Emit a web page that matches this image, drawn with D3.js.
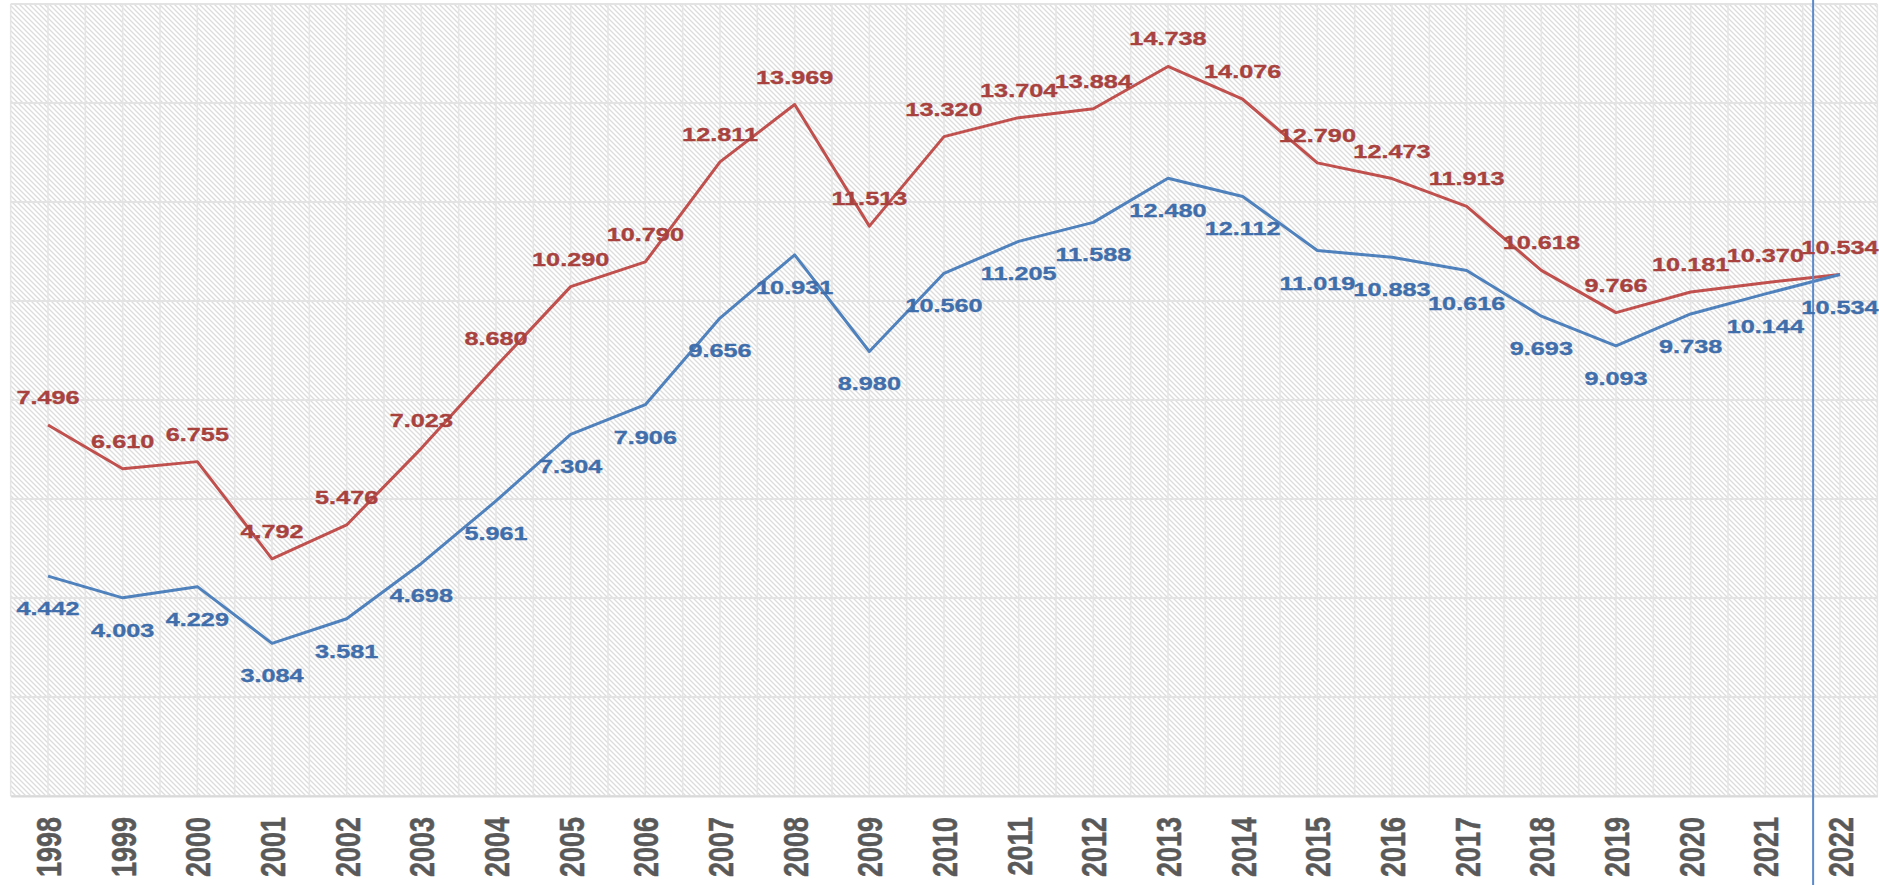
<!DOCTYPE html>
<html>
<head>
<meta charset="utf-8">
<script src="https://cdn.jsdelivr.net/npm/d3@7"></script>
<style>
  html, body { margin: 0; padding: 0; background: #ffffff; }
  svg { display: block; }
</style>
</head>
<body>
<svg id="chart" width="1879" height="885"></svg>
<script>
// ---- data ----
const years = ["1998","1999","2000","2001","2002","2003","2004","2005","2006","2007","2008","2009","2010","2011","2012","2013","2014","2015","2016","2017","2018","2019","2020","2021","2022"];
const redValues = [7.496, 6.610, 6.755, 4.792, 5.476, 7.023, 8.680, 10.290, 10.790, 12.811, 13.969, 11.513, 13.320, 13.704, 13.884, 14.738, 14.076, 12.790, 12.473, 11.913, 10.618, 9.766, 10.181, 10.370, 10.534];
const blueValues = [4.442, 4.003, 4.229, 3.084, 3.581, 4.698, 5.961, 7.304, 7.906, 9.656, 10.931, 8.980, 10.560, 11.205, 11.588, 12.480, 12.112, 11.019, 10.883, 10.616, 9.693, 9.093, 9.738, 10.144, 10.534];
const yTickValues = [0, 2, 4, 6, 8, 10, 12, 14, 16];
const markerIndex = 23.64; // vertical marker line position (category index units)

// ---- layout ----
const W = 1879, H = 885;
const plot = { left: 10.67, right: 1877.33, top: 4, bottom: 796 };
const svg = d3.select("#chart");

const x = d3.scalePoint().domain(years).range([plot.left, plot.right]).padding(0.5);
const step = x.step();
const xi = d3.scaleLinear().domain([0, years.length - 1]).range([x(years[0]), x(years[years.length - 1])]);
const y = d3.scaleLinear().domain([0, 16]).range([plot.bottom, plot.top]);

const labelFont = "'Liberation Sans', Arial, sans-serif";
const stretch = 1.33;

// ---- background hatch ----
const defs = svg.append("defs");
const pat = defs.append("pattern").attr("id", "hatch")
  .attr("width", 5).attr("height", 5).attr("patternUnits", "userSpaceOnUse");
pat.append("rect").attr("width", 5).attr("height", 5).attr("fill", "#ffffff");
pat.append("path").attr("d", "M-1,-1 L6,6 M-1,4 L1,6 M4,-1 L6,1")
  .attr("stroke", "#dcdcdc").attr("stroke-width", 1.3);

svg.append("rect").attr("x", plot.left).attr("y", plot.top)
  .attr("width", plot.right - plot.left).attr("height", plot.bottom - plot.top)
  .attr("fill", "url(#hatch)");

// ---- gridlines ----
const grid = svg.append("g");
const vLines = [];
years.forEach(yr => { vLines.push(x(yr) - step / 2); vLines.push(x(yr)); });
vLines.push(x(years[years.length - 1]) + step / 2);
grid.selectAll("line.v").data(vLines).join("line")
  .attr("x1", d => d).attr("x2", d => d)
  .attr("y1", plot.top).attr("y2", plot.bottom)
  .attr("stroke", "#e5e5e5").attr("stroke-width", 1.5);
grid.selectAll("line.h").data(yTickValues).join("line")
  .attr("x1", plot.left).attr("x2", plot.right)
  .attr("y1", d => y(d)).attr("y2", d => y(d))
  .attr("stroke", "#e3e3e3").attr("stroke-width", 1.8);

// ---- x axis ----
const xAxis = svg.append("g").attr("transform", `translate(0,${plot.bottom})`)
  .call(d3.axisBottom(x).tickSize(0).tickPadding(0));
xAxis.select(".domain").attr("stroke", "#d9d9d9").attr("stroke-width", 2);
xAxis.selectAll(".tick text")
  .attr("x", 0).attr("y", 0).attr("dy", null)
  .attr("transform", `translate(0,21) scale(${stretch},1) rotate(-90)`)
  .attr("text-anchor", "end")
  .attr("dominant-baseline", "central")
  .style("font-family", labelFont)
  .style("font-weight", "bold")
  .style("font-size", "27px")
  .attr("fill", "#595959")
  .attr("stroke", "#595959").attr("stroke-width", 0.4);

// ---- lines ----
const series = [
  { values: redValues, color: "#C0504D", label: "#A8423F", dy: -21 },
  { values: blueValues, color: "#4F81BD", label: "#3F6EAB", dy: 39 }
];

series.forEach(s => {
  const line = d3.line().x((d, i) => x(years[i])).y(d => y(d));
  svg.append("path").datum(s.values)
    .attr("d", line)
    .attr("fill", "none")
    .attr("stroke", s.color)
    .attr("stroke-width", 3)
    .attr("stroke-linejoin", "round");
});

// ---- marker line ----
svg.append("line")
  .attr("x1", xi(markerIndex)).attr("x2", xi(markerIndex))
  .attr("y1", 0).attr("y2", H)
  .attr("stroke", "#5B8ACB").attr("stroke-width", 2);

// ---- data labels ----
series.forEach(s => {
  svg.append("g").selectAll("text").data(s.values).join("text")
    .attr("transform", (d, i) => `translate(${x(years[i])},${y(d) + s.dy}) scale(${stretch},1)`)
    .attr("text-anchor", "middle")
    .style("font-family", labelFont)
    .style("font-weight", "bold")
    .style("font-size", "19px")
    .attr("fill", s.label)
    .attr("stroke", s.label).attr("stroke-width", 0.35)
    .text(d => d3.format(".3f")(d));
});
</script>
</body>
</html>
